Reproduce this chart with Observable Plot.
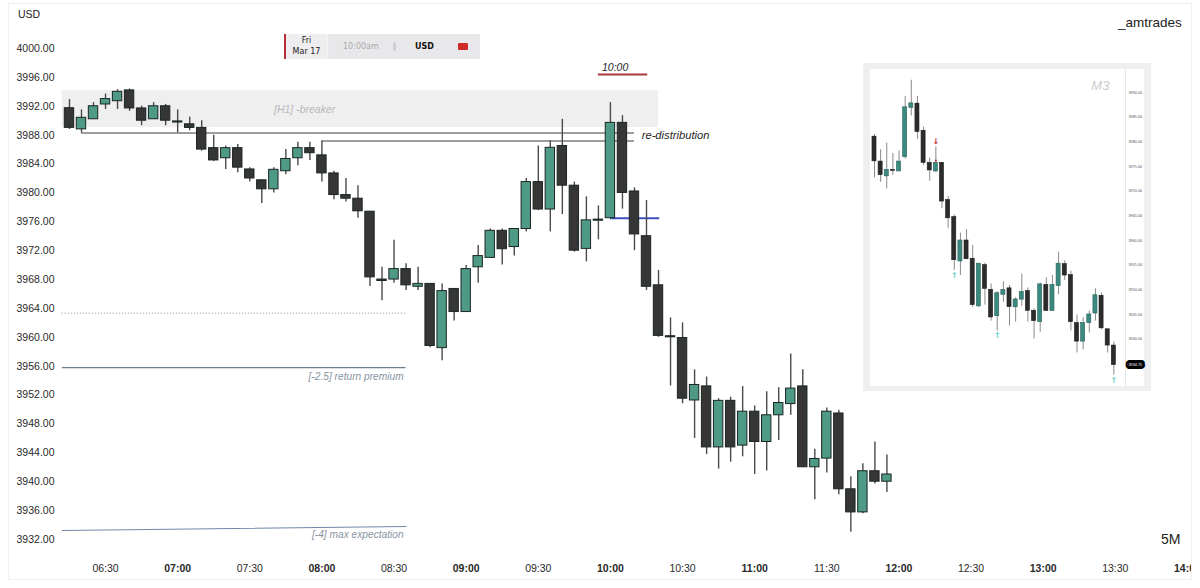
<!DOCTYPE html>
<html>
<head>
<meta charset="utf-8">
<script src="https://cdn.jsdelivr.net/npm/d3@7"></script>
<script src="https://cdn.jsdelivr.net/npm/@observablehq/plot@0.6"></script>
<style>
html,body{margin:0;padding:0;background:#fff;width:1200px;height:588px;overflow:hidden;font-family:"Liberation Sans",sans-serif}
#stage{position:relative;width:1200px;height:588px;overflow:hidden}
#main{position:absolute;left:0;top:0}
#frame{position:absolute;left:8px;top:3px;width:1184px;height:577px;border:1px solid #f1f1f1;box-sizing:border-box;pointer-events:none}
#inset{position:absolute;left:863px;top:63px;width:288px;height:328px;box-sizing:border-box;border:solid #efefef;border-width:6px 7px 5px 7px;background:#fff}
.lbl{position:absolute;white-space:nowrap;color:#222}
#cal{position:absolute;left:284px;top:34px;width:196px;height:25px;background:#e8e8ea;border-left:2px solid #b5303c;box-sizing:border-box;font-family:"DejaVu Sans",sans-serif;font-size:8px;color:#222}
#cal div{position:absolute}
</style>
</head>
<body>
<div id="stage">
  <div id="main"></div>
  <div id="frame"></div>
  <div class="lbl" style="left:18px;top:8px;font-size:10.5px">USD</div>
  <div class="lbl" style="left:1118px;top:15px;font-size:13.5px">_amtrades</div>
  <div class="lbl" style="left:1161px;top:531px;font-size:14px">5M</div>
  <div id="cal">
    <div style="left:0;top:0;width:42px;height:25px;background:#eeeef0;border-right:1px solid #f4f4f4;text-align:center;line-height:10.5px;padding-top:2px;box-sizing:border-box">Fri<br>Mar 17</div>
    <div style="left:57px;top:7.5px;color:#ababab">10:00am</div>
    <div style="left:107px;top:8px;width:3px;height:9px;border-radius:2px;background:#cfcfd2"></div>
    <div style="left:129px;top:7.5px;font-weight:600;color:#111">USD</div>
    <div style="left:172px;top:9px;width:10px;height:7px;border-radius:1px;background:#cf2a27"></div>
  </div>
  <div id="inset"></div>
</div>
<script>
// 5-minute candles
const m5Times = ["06:15","06:20","06:25","06:30","06:35","06:40","06:45","06:50","06:55","07:00","07:05","07:10","07:15","07:20","07:25","07:30","07:35","07:40","07:45","07:50","07:55","08:00","08:05","08:10","08:15","08:20","08:25","08:30","08:35","08:40","08:45","08:50","08:55","09:00","09:05","09:10","09:15","09:20","09:25","09:30","09:35","09:40","09:45","09:50","09:55","10:00","10:05","10:10","10:15","10:20","10:25","10:30","10:35","10:40","10:45","10:50","10:55","11:00","11:05","11:10","11:15","11:20","11:25","11:30","11:35","11:40","11:45","11:50","11:55"];
const m5Open = [3991.73,3988.8,3990.2,3992.25,3992.7,3994.2,3991.7,3990.2,3992,3989.9,3989.5,3989,3986.2,3984.8,3986.2,3983.25,3981.75,3980.5,3983,3984.8,3986.2,3985.2,3982.7,3979.7,3979.2,3977.4,3968,3968,3969.45,3967,3967.4,3958.5,3966.7,3963.5,3969.7,3971,3974.75,3972.5,3975,3981.5,3977.7,3986.5,3981,3972.25,3976.3,3976.5,3989.7,3980.2,3974,3967.2,3960.15,3959.9,3951.25,3953.2,3944.75,3951.2,3945,3949.7,3945.5,3949.2,3950.75,3953.2,3942,3943.2,3949.45,3938.95,3935.75,3941.45,3940];
const m5High = [3992.93,3991.5,3992.5,3993.7,3994.3,3994.4,3992,3992.5,3992.25,3991.5,3990.5,3990,3988,3986.5,3986.7,3983.5,3981.75,3983.5,3986,3987,3987,3987.2,3983,3982,3981,3977.4,3969.7,3973.45,3970.2,3969.7,3967.4,3967.4,3966.7,3969.95,3972.7,3975,3975,3975,3982,3986.5,3987.2,3990.2,3981.5,3979.45,3978.2,3992.5,3990.7,3980.7,3978.95,3969.25,3962.7,3962,3955.5,3954.5,3951.5,3951.7,3953.2,3950.5,3952.45,3953,3957.7,3955.5,3944.5,3950.2,3949.9,3940.7,3942.5,3945.5,3943.7];
const m5Low = [3988.78,3988.3,3990.2,3991.55,3991.55,3991.3,3989.3,3990.2,3989.3,3988.3,3988.6,3985.8,3984.35,3983.25,3982.8,3981.5,3978.55,3980,3982.5,3983.75,3984.5,3981.5,3979.05,3978.75,3976.5,3967.05,3965.05,3967.5,3966.5,3966.5,3958.55,3956.75,3962.25,3963.5,3967.5,3971,3970,3971.25,3974.6,3977.55,3974.6,3977,3971.8,3970.45,3973.5,3976.5,3977.75,3972,3966.5,3960,3953.25,3950.8,3946,3943.75,3941.75,3942.7,3943.45,3941,3941.5,3945.7,3949.2,3942,3937.5,3941.2,3938.2,3933,3935.55,3939.7,3938.5];
const m5Close = [3989.01,3990.4,3992,3993,3994,3991.7,3990,3992,3990,3989.75,3989,3986,3984.5,3986.2,3983.5,3982,3980.5,3983.2,3984.7,3986.2,3985.5,3982.7,3979.7,3979.2,3977.45,3968.3,3967.8,3969.45,3967.2,3967.4,3958.8,3966.4,3963.5,3969.45,3971.25,3974.75,3972.2,3975,3981.5,3977.7,3986.25,3981,3972,3976.2,3976.15,3989.7,3980,3974.25,3967,3960.2,3960,3951.5,3953.4,3944.75,3951.2,3944.75,3949.7,3945.5,3949.2,3950.9,3952.9,3942,3943.15,3949.7,3938.95,3935.75,3941.45,3940,3941];

// Levels and annotations on the 5M chart
const zoneLabel = "[H1] -breaker";
const levelBreakerLow = 3988.3, levelBreakerHigh = 3987.2, levelOpen = 3976.5;
const yTicks = [4000,3996,3992,3988,3984,3980,3976,3972,3968,3964,3960,3956,3952,3948,3944,3940,3936,3932];
const halfTicks = ["06:30","07:30","08:30","09:30","10:30","11:30","12:30","13:30"];
const hourTicks = ["07:00","08:00","09:00","10:00","11:00","12:00","13:00","14:00"];

// 3-minute candles (inset)
const m3Open = [3981.05,3976,3973,3974.3,3974,3976.9,3986.9,3987.75,3982.25,3975.75,3974,3975.75,3968.2,3964.75,3955.75,3960,3956.3,3946.65,3955,3950,3944.65,3949,3950.3,3946.45,3948,3949.75,3945.75,3943.45,3951,3945.7,3950.75,3955.2,3953,3943.25,3939.5,3943.25,3945.2,3948.8,3942,3938.7];
const m3High = [3981.5,3978.4,3979.75,3977.65,3978.2,3989.2,3992.5,3989.2,3983,3976.7,3979,3975.75,3968.95,3965.2,3961.5,3962.2,3959,3955.3,3955.4,3951.2,3949.6,3951.65,3950.9,3948.4,3953.2,3950.4,3946.15,3951.4,3952.45,3952.9,3957.65,3955.9,3953.8,3944.9,3944.35,3945.7,3950.2,3949.35,3942,3939.4];
const m3Low = [3972.7,3971.8,3970.45,3973.25,3974,3976.5,3985.25,3980.5,3975.2,3972,3973.75,3966.45,3962.4,3953.95,3952.9,3956.2,3946.4,3946.4,3946.9,3943.65,3941.65,3947.45,3942.65,3943.45,3946.65,3943.45,3940,3941.4,3945.7,3945.7,3949,3951.9,3941.65,3937.2,3937.85,3941.25,3943.65,3941.9,3937.2,3932.7];
const m3Close = [3976.05,3973.25,3974.3,3974.1,3976,3987,3987.8,3982,3975.75,3974.2,3975.75,3967.9,3964.5,3956,3960,3956.2,3946.9,3955.3,3950.2,3944.4,3949.3,3950,3946.5,3948.05,3949.55,3945.75,3943.65,3951.1,3945.7,3951,3955.3,3952.9,3943.45,3939.5,3943.25,3945,3948.9,3942.2,3938.7,3934.75];
const m3Ticks = [3990,3985,3980,3975,3970,3965,3960,3955,3950,3945,3940];
const m3Last = 3934.75;
const m3Signals = [
  {i:10, v:3980, g:"↓", c:"#c01f2e"},
  {i:13, v:3953, g:"↑", c:"#62cfc6"},
  {i:20, v:3940.75, g:"↑", c:"#62cfc6"},
  {i:39, v:3931.6, g:"↑", c:"#62cfc6"}
];

const t = s => new Date(`2023-03-17T${s}:00Z`);
const addMin = (d, m) => new Date(+d + m * 60000);
const m5 = m5Times.map((s, i) => ({t: t(s), o: m5Open[i], h: m5High[i], l: m5Low[i], c: m5Close[i]}));
const m3 = m3Open.map((o, i) => ({i, o, h: m3High[i], l: m3Low[i], c: m3Close[i]}));

const GREEN = "#4f9a86", DARK = "#363636", EDGE = "#1a2623", WICK = "#4a4a4a";
const SLATE = "#8995a3";
const fontMain = "'Liberation Sans', sans-serif";
const halfW = 1.95;

const zone = [{x1: t("06:12"), x2: t("10:20"), y1: 3989.06, y2: 3994.18}];
const segments = [
  {a: t("06:20"), b: t("10:10"), v: levelBreakerLow},
  {a: t("08:00"), b: t("10:10"), v: levelBreakerHigh}
];

const main = Plot.plot({
  width: 1192, height: 588,
  marginLeft: 62, marginRight: 0, marginTop: 0, marginBottom: 33,
  style: {background: "transparent", overflow: "hidden", fontFamily: fontMain, fontSize: "10.5px", color: "#2a2a2a"},
  x: {type: "utc", domain: [new Date("2023-03-17T06:12:06Z"), new Date("2023-03-17T14:02:06Z")]},
  y: {domain: [3929.78, 4006.65]},
  marks: [
    Plot.rect(zone, {x1: "x1", x2: "x2", y1: "y1", y2: "y2", fill: "#efefef"}),
    Plot.axisY({ticks: yTicks, tickFormat: d3.format(".2f"), tickSize: 0, tickPadding: 8, label: null}),
    Plot.axisX({ticks: halfTicks.map(t), tickFormat: d3.utcFormat("%H:%M"), tickSize: 0, tickPadding: 9, label: null}),
    Plot.axisX({ticks: hourTicks.map(t), tickFormat: d3.utcFormat("%H:%M"), tickSize: 0, tickPadding: 9, label: null, fontWeight: "bold"}),
    Plot.ruleY(segments, {y: "v", x1: "a", x2: "b", stroke: "#3c3c3c", strokeWidth: 1.1}),
    Plot.ruleY([levelOpen], {x1: t("10:00"), x2: addMin(t("10:20"), 0.5), stroke: "#3e50bd", strokeWidth: 2}),
    Plot.ruleY([3963.35], {x1: t("06:12"), x2: t("08:35"), stroke: "#8c8c8c", strokeWidth: 1, strokeDasharray: "1,2"}),
    Plot.ruleY([3955.8], {x1: t("06:12"), x2: t("08:35"), stroke: "#6f7c8b", strokeWidth: 1.1}),
    Plot.line([{x: t("06:12"), y: 3933.24}, {x: t("08:35"), y: 3933.8}], {x: "x", y: "y", stroke: "#7187ab", strokeWidth: 1.2}),
    Plot.ruleY([3996.4], {x1: t("09:55"), x2: addMin(t("10:15"), 0.5), stroke: "#a8393f", strokeWidth: 2}),
    Plot.text([zoneLabel], {x: addMin(t("07:52"), 0.8), y: 3991.6, fill: "#b8b8b8", fontStyle: "italic", fontSize: 10.5, letterSpacing: "0.3px"}),
    Plot.text(["re-distribution"], {x: t("10:13"), y: 3988, textAnchor: "start", fill: "#262626", fontStyle: "italic", fontSize: 11.2, letterSpacing: "0.3px"}),
    Plot.text(["10:00"], {x: addMin(t("09:56"), 0.5), y: 3997.4, textAnchor: "start", fill: "#262626", fontStyle: "italic", fontSize: 10.5}),
    Plot.text(["[-2.5] return premium"], {x: t("08:34"), y: 3954.6, textAnchor: "end", fill: SLATE, fontStyle: "italic", fontSize: 10.2, letterSpacing: "0.3px"}),
    Plot.text(["[-4] max expectation"], {x: t("08:34"), y: 3932.6, textAnchor: "end", fill: SLATE, fontStyle: "italic", fontSize: 10.2, letterSpacing: "0.3px"}),
    Plot.ruleX(m5, {x: "t", y1: "l", y2: "h", stroke: WICK, strokeWidth: 1.4}),
    Plot.rect(m5, {
      x1: d => addMin(d.t, -halfW), x2: d => addMin(d.t, halfW),
      y1: "o", y2: "c",
      fill: d => d.c > d.o ? GREEN : DARK, stroke: EDGE, strokeWidth: 1
    })
  ]
});
document.getElementById("main").append(main);

const inset = Plot.plot({
  width: 274, height: 317,
  marginLeft: 0, marginRight: 19, marginTop: 0, marginBottom: 0,
  style: {background: "#fff", overflow: "visible", fontFamily: fontMain, fontSize: "3.8px", color: "#555"},
  x: {domain: [-0.65, 40.9], axis: null},
  y: {domain: [3930.4, 3994.67]},
  marks: [
    Plot.ruleX([40.9], {stroke: "#e6e6e6", strokeWidth: 1}),
    Plot.axisY({anchor: "right", ticks: m3Ticks, tickFormat: d3.format(".2f"), tickSize: 0, tickPadding: 3, label: null}),
    Plot.text(["M3"], {x: 36.8, y: 3991.3, fill: "#cdcdcd", fontStyle: "italic", fontSize: 13}),
    Plot.ruleX(m3, {x: "i", y1: "l", y2: "h", stroke: "#8a8a8a", strokeWidth: 1}),
    Plot.rect(m3, {
      x1: d => d.i - 0.33, x2: d => d.i + 0.33, y1: "o", y2: "c",
      fill: d => d.c > d.o ? "#3b8a80" : "#2c2c2c", stroke: d => d.c > d.o ? "#2a5f5a" : "#1c1c1c", strokeWidth: 0.6
    }),
    Plot.dot([{i: 10, v: 3976.2}], {x: "i", y: "v", r: 1, fill: "#c01f2e"}),
    Plot.text(m3Signals, {x: "i", y: "v", text: "g", fill: "c", fontFamily: "'DejaVu Sans'", fontSize: 8, fontWeight: "bold"}),
    Plot.text([m3Last], {y: d => d, frameAnchor: "right", textAnchor: "start", dx: 3, text: d => d3.format(".2f")(d), fill: "#fff", stroke: "#000", strokeWidth: 6, fontSize: 3.8})
  ]
});
document.getElementById("inset").append(inset);
</script>
</body>
</html>
